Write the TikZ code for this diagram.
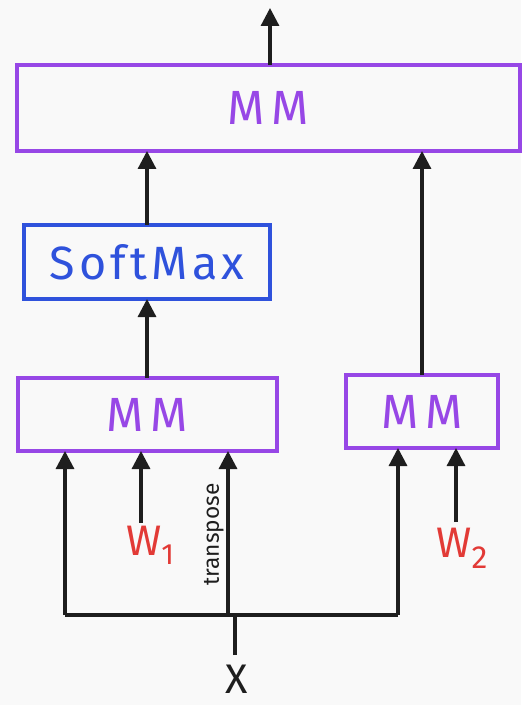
\documentclass[tikz,border=0pt]{standalone}
\usepackage{fontspec}
\setmainfont{Fira Sans}
\usetikzlibrary{arrows.meta}
\definecolor{bg}{HTML}{F9F9F9}
\definecolor{mmpurple}{HTML}{9747E6}
\definecolor{smblue}{HTML}{2F52DC}
\definecolor{wred}{HTML}{E23A36}
\definecolor{ink}{HTML}{1E1E1E}
\tikzset{
  opbox/.style={draw=mmpurple, line width=2.4pt, inner sep=0pt, outer sep=0pt,
    text=mmpurple, font=\fontsize{36}{36}\selectfont\addfontfeatures{LetterSpace=14}},
  smbox/.style={draw=smblue, line width=2.4pt, inner sep=0pt, outer sep=0pt,
    text=smblue, font=\fontsize{35}{35}\selectfont\addfontfeatures{LetterSpace=9}},
  flow/.style={draw=ink, line width=2.4pt, -{Triangle[width=13.5pt,length=13.5pt]}},
  wire/.style={draw=ink, line width=2.4pt},
  weight/.style={text=wred, font=\fontsize{32}{32}\selectfont, inner sep=0pt},
}
\begin{document}
\begin{tikzpicture}[x=0.75pt, y=-0.75pt]
  \useasboundingbox[fill=bg] (0,0) rectangle (521,705);

  % operation boxes
  \node[opbox, minimum width=377.25pt, minimum height=64.5pt] (mmtop) at (268.5,108) {MM};
  \node[smbox, minimum width=184.5pt, minimum height=55.5pt] (soft) at (147,262) {SoftMax};
  \node[opbox, minimum width=194.25pt, minimum height=54.75pt] (mmleft) at (147.5,414.5) {MM};
  \node[opbox, minimum width=114pt, minimum height=54.75pt] (mmright) at (422,411.5) {MM};

  % inputs
  \node[weight] (w1) at (150,545) {W\raisebox{-0.4ex}{\fontsize{22}{22}\selectfont 1}};
  \node[weight] (w2) at (462,548) {W\raisebox{-0.5ex}{\fontsize{24}{24}\selectfont 2}};
  \node[font=\fontsize{31}{31}\selectfont, text=ink, inner sep=0pt] (x) at (237,679) {X};

  % junction points of the input bus
  \coordinate (out) at (270,8);
  \coordinate (busL) at (65,615);
  \coordinate (busM) at (228,615);
  \coordinate (busR) at (398,615);
  \coordinate (stub) at (235,615);
  \coordinate (xtop) at (235,655);

  % bus feeding the two lower products
  \draw[wire] (busL) -- (busR);
  \draw[wire] (xtop) -- (stub);
  \draw[flow] (busL) -- (busL |- mmleft.south);
  \draw[flow] (busM) -- (busM |- mmleft.south)
    node[pos=0.49, sloped, above, inner sep=2pt, text=ink,
         font=\fontsize{17}{17}\selectfont] (tlabel) {transpose};
  \draw[flow] ([yshift=2pt]w1.north -| 141,0) -- (141,0 |- mmleft.south);
  \draw[flow] ([yshift=4pt]w2.north -| 456,0) -- (456,0 |- mmright.south);
  \draw[flow] (busR) -- (busR |- mmright.south);

  % upward flow
  \draw[flow] (mmleft.north -| 147,0) -- (soft.south -| 147,0);
  \draw[flow] (soft.north -| 147,0) -- (mmtop.south -| 147,0);
  \draw[flow] (mmright.north -| 422,0) -- (mmtop.south -| 422,0);
  \draw[flow] (mmtop.north -| out) -- (out);
\end{tikzpicture}
\end{document}
